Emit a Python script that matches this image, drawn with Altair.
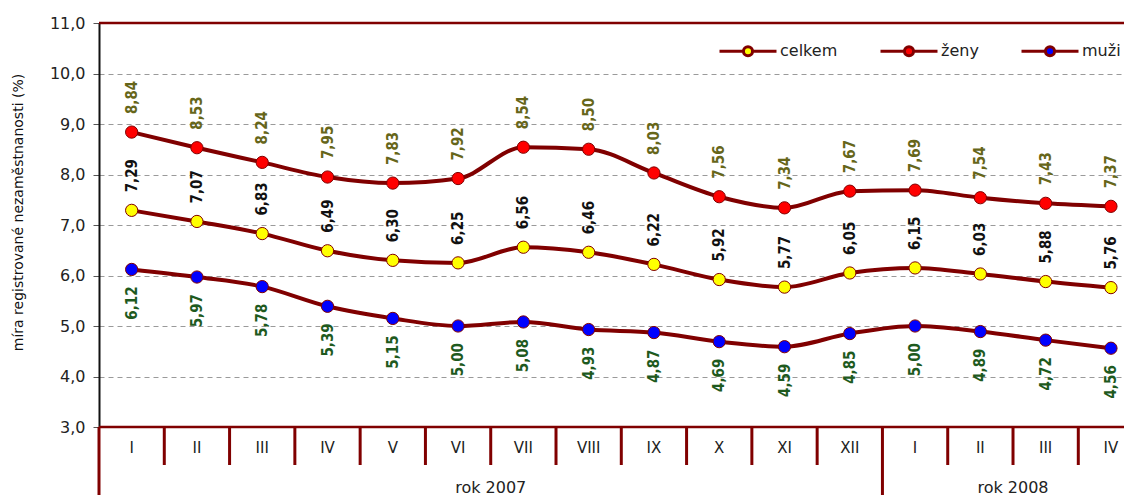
import altair as alt
import pandas as pd

months = ["I", "II", "III", "IV", "V", "VI", "VII", "VIII", "IX", "X", "XI", "XII",
          "I", "II", "III", "IV"]
years = ["rok 2007", "rok 2008"]
year_start = [0, 12]
year_end = [12, 16]
series_names = ["celkem", "ženy", "muži"]
celkem = [7.29, 7.07, 6.83, 6.49, 6.30, 6.25, 6.56, 6.46, 6.22, 5.92, 5.77, 6.05,
          6.15, 6.03, 5.88, 5.76]
zeny = [8.84, 8.53, 8.24, 7.95, 7.83, 7.92, 8.54, 8.50, 8.03, 7.56, 7.34, 7.67,
        7.69, 7.54, 7.43, 7.37]
muzi = [6.12, 5.97, 5.78, 5.39, 5.15, 5.00, 5.08, 4.93, 4.87, 4.69, 4.59, 4.85,
        5.00, 4.89, 4.72, 4.56]
y_ticks = [3, 4, 5, 6, 7, 8, 9, 10, 11]

DARK_RED = "#800000"
LINE_FONT = "DejaVu Sans"
LABEL_FONT = "DejaVu Sans Condensed, DejaVu Sans"

rows = []
for name, vals in zip(series_names, [celkem, zeny, muzi]):
    for i, v in enumerate(vals):
        rows.append({"pos": i + 0.5, "series": name, "value": v,
                     "label": f"{v:.2f}".replace(".", ",")})
df = pd.DataFrame(rows)

df_months = pd.DataFrame({"pos": [i + 0.5 for i in range(len(months))], "m": months})
n = len(months)
df_short = pd.DataFrame({"pos": [b for b in range(1, n) if b not in year_start]})
df_long = pd.DataFrame({"pos": year_start})
df_years = pd.DataFrame({"pos": [(a + b) / 2 for a, b in zip(year_start, year_end)],
                         "year": years})
df_frame = pd.DataFrame({"v": [3, 11]})

xscale = alt.Scale(domain=[0, 15.7], nice=False, zero=False)
yscale = alt.Scale(domain=[3, 11], nice=False, zero=False)

base = alt.Chart(df)

lines = base.mark_line(interpolate="monotone", color=DARK_RED, strokeWidth=4).encode(
    x=alt.X("pos:Q", scale=xscale, axis=None),
    y=alt.Y("value:Q", scale=yscale, axis=alt.Axis(
        values=y_ticks,
        labelExpr="replace(format(datum.value, '.1f'), '.', ',')",
        grid=True, gridColor="#9a9a9a", gridDash=[5, 4], gridWidth=1,
        domainColor="#111111", domainWidth=2,
        tickColor="#555555", tickSize=6, tickWidth=1,
        labelFont=LINE_FONT, labelFontSize=16, labelColor="#222222", labelPadding=8,
        title="míra registrované nezaměstnanosti (%)",
        titleFont=LINE_FONT, titleFontSize=14, titleFontWeight="normal",
        titleColor="#111111", titleX=-81, titleY=189, titleAngle=270,
        titleAlign="center", titleBaseline="middle")),
    detail="series:N",
)

legend_path = ("M-1,0L-0.16,0M0.16,0L1,0M-0.16,0A0.16,0.16,0,1,1,0.16,0"
               "A0.16,0.16,0,1,1,-0.16,0Z")

points = base.mark_circle(size=150, stroke=DARK_RED, strokeWidth=1, opacity=1).encode(
    x=alt.X("pos:Q"),
    y=alt.Y("value:Q"),
    fill=alt.Fill("series:N",
                  scale=alt.Scale(domain=series_names,
                                  range=["#FFFF00", "#FF0000", "#0000FF"]),
                  legend=alt.Legend(orient="none", legendX=619, legendY=-2,
                                    direction="horizontal", title=None,
                                    symbolType=legend_path, symbolSize=3249,
                                    symbolStrokeColor=DARK_RED, symbolStrokeWidth=3,
                                    symbolOpacity=1,
                                    labelFont=LINE_FONT, labelFontSize=16,
                                    labelColor="#222222", labelOffset=2,
                                    columnPadding=36, padding=0)),
)


def labels(name, color, above):
    return base.transform_filter(alt.datum.series == name).mark_text(
        angle=270, align="left" if above else "right", baseline="middle",
        dx=18 if above else -17, font=LABEL_FONT, fontWeight="bold",
        fontSize=15, color=color,
    ).encode(x=alt.X("pos:Q"), y=alt.Y("value:Q"), text="label:N")


lab_z = labels("ženy", "#66661a", True)
lab_c = labels("celkem", "#111111", True)
lab_m = labels("muži", "#1e5a1e", False)

frame = alt.Chart(df_frame).mark_rule(color=DARK_RED, strokeWidth=2.5).encode(
    y=alt.Y("v:Q"))

short_sep = alt.Chart(df_short).mark_rule(color=DARK_RED, strokeWidth=3).encode(
    x=alt.X("pos:Q"), y=alt.value(404), y2=alt.value(442))
long_sep = alt.Chart(df_long).mark_rule(color=DARK_RED, strokeWidth=3).encode(
    x=alt.X("pos:Q"), y=alt.value(404), y2=alt.value(480))

month_text = alt.Chart(df_months).mark_text(
    font=LINE_FONT, fontSize=15, color="#222222", baseline="middle").encode(
    x=alt.X("pos:Q"), y=alt.value(425), text="m:N")
year_text = alt.Chart(df_years).mark_text(
    font=LINE_FONT, fontSize=16, color="#222222", baseline="middle").encode(
    x=alt.X("pos:Q"), y=alt.value(465), text="year:N")

chart = alt.layer(
    lines, short_sep, long_sep, frame, points,
    lab_z, lab_c, lab_m, month_text, year_text,
).properties(
    width=1025, height=404,
    autosize=alt.AutoSizeParams(type="none"),
    padding={"left": 91, "top": 15, "right": 0, "bottom": 70},
).configure_view(stroke=None).configure(background="white")

chart.save("out.html", embed_options={"renderer": "svg", "actions": False})
